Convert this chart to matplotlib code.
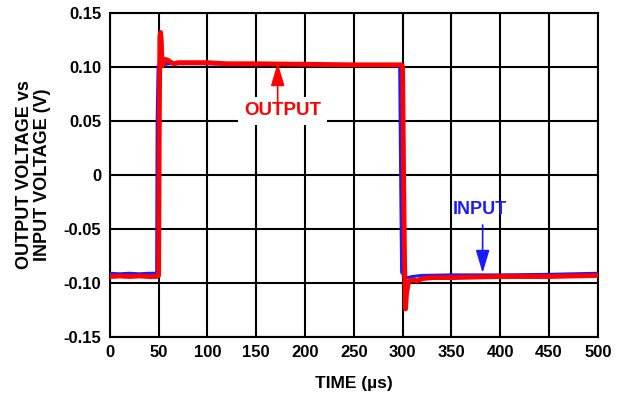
import matplotlib
matplotlib.use("Agg")
import matplotlib.pyplot as plt

plt.rcParams['font.family'] = ['Liberation Sans', 'DejaVu Sans']

# Input waveform (blue)
in_t = [0, 10, 20, 30, 40, 48, 48.5, 49.5, 55, 60, 70, 100, 150, 200, 250, 297,
        298, 299, 302, 305, 310, 320, 350, 400, 450, 500]
in_v = [-0.091, -0.0915, -0.091, -0.0915, -0.091, -0.091, 0.05, 0.101, 0.102, 0.103,
        0.103, 0.103, 0.1025, 0.1025, 0.102, 0.102, 0.0, -0.09, -0.094, -0.095,
        -0.094, -0.093, -0.0925, -0.0925, -0.092, -0.091]

# Output waveform (red)
out_t = [0, 10, 20, 30, 40, 48, 50, 50.7, 51.3, 52, 52.7, 53.5, 55, 57, 60, 63, 66,
         70, 80, 90, 100, 120, 150, 200, 250, 290, 299, 300, 301, 302, 303, 304,
         306, 310, 315, 320, 330, 350, 400, 450, 500]
out_v = [-0.094, -0.0935, -0.094, -0.0935, -0.094, -0.094, -0.093, 0.05, 0.128,
         0.132, 0.125, 0.101, 0.103, 0.107, 0.106, 0.104, 0.103, 0.104, 0.104,
         0.104, 0.104, 0.103, 0.103, 0.1025, 0.102, 0.102, 0.102, 0.10, 0.0,
         -0.08, -0.124, -0.11, -0.099, -0.097, -0.098, -0.096, -0.095, -0.095,
         -0.094, -0.094, -0.093]

x_ticks = [0, 50, 100, 150, 200, 250, 300, 350, 400, 450, 500]
y_ticks = [-0.15, -0.10, -0.05, 0, 0.05, 0.10, 0.15]
y_labels = ['-0.15', '-0.10', '-0.05', '0', '0.05', '0.10', '0.15']

fig = plt.figure(figsize=(6.24, 4.0), dpi=100)
ax = fig.add_axes([0.176, 0.1575, 0.782, 0.81])

ax.plot(in_t, in_v, color='#1a1aff', lw=2.2, zorder=3)
ax.plot(out_t, out_v, color='#ff0000', lw=3.5, zorder=4)

ax.set_xlim(0, 500)
ax.set_ylim(-0.15, 0.15)
ax.set_xticks(x_ticks)
ax.set_yticks(y_ticks)
ax.set_yticklabels(y_labels)
ax.grid(True, color='black', lw=1.5)
ax.set_axisbelow(True)
for s in ax.spines.values():
    s.set_linewidth(1.5)
ax.tick_params(length=0, labelsize=12)
ax.tick_params(axis='y', pad=6)
ax.tick_params(axis='x', pad=6)
for lab in ax.get_xticklabels() + ax.get_yticklabels():
    lab.set_fontweight('bold')

ax.set_xlabel('TIME (µs)', fontsize=12.5, fontweight='bold')
ax.xaxis.set_label_coords(0.5, -0.12)
ax.set_ylabel('OUTPUT VOLTAGE vs\nINPUT VOLTAGE (V)', fontsize=13,
              fontweight='bold', linespacing=1.1)
ax.yaxis.set_label_coords(-0.12, 0.5)

# OUTPUT label and arrow
ax.text(177, 0.0593, 'OUTPUT', ha='center', va='center', color='#ff0000',
        fontsize=13.5, fontweight='bold', zorder=6,
        bbox=dict(boxstyle='square,pad=0.3', fc='white', ec='none'))
ax.annotate('', xy=(172, 0.1037), xytext=(172, 0.0676),
            arrowprops=dict(arrowstyle='-|>,head_length=1.0,head_width=0.3',
                            color='#ff0000', lw=1.2, mutation_scale=14,
                            shrinkA=0, shrinkB=0), zorder=6)

# INPUT label and arrow
ax.text(379, -0.032, 'INPUT', ha='center', va='center', color='#1a1aff',
        fontsize=13, fontweight='bold', zorder=6)
ax.annotate('', xy=(382, -0.0907), xytext=(382, -0.0463),
            arrowprops=dict(arrowstyle='-|>,head_length=1.0,head_width=0.3',
                            color='#1a1aff', lw=1.2, mutation_scale=14,
                            shrinkA=0, shrinkB=0), zorder=6)

fig.savefig('out.png', dpi=100)
